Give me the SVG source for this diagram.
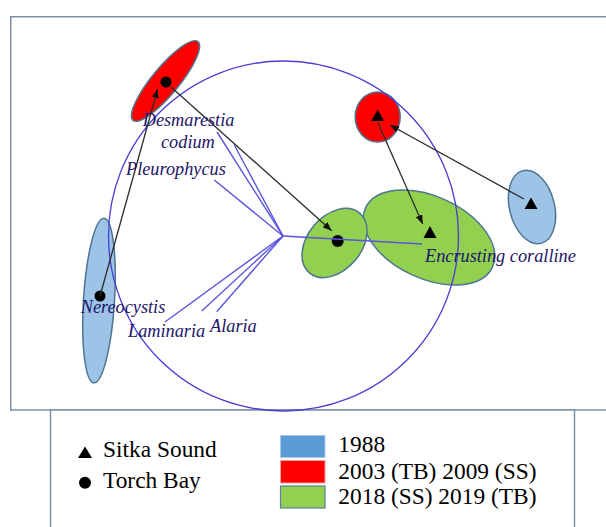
<svg xmlns="http://www.w3.org/2000/svg" width="606" height="527" viewBox="0 0 606 527">
  <style>
    .frame { fill: #ffffff; stroke: #7d90a8; stroke-width: 1.5; }
    .ell { stroke: #4d7592; stroke-width: 1.5; }
    .blue { fill: #9dc3e6; }
    .red { fill: #ff0000; }
    .green { fill: #92d050; }
    .sym { fill: #000000; }
    .arrow { stroke: #2b2b2b; stroke-width: 1.3; fill: none; marker-end: url(#ah); }
    .vec { stroke: #5a55dc; stroke-width: 1.4; fill: none; }
    .circ { stroke: #4a3fd2; stroke-width: 1.3; fill: none; }
    .lab { font-family: "Liberation Serif", "Times New Roman", serif; font-style: italic; font-size: 18.3px; fill: #1d1668; }
    .leg { font-family: "Liberation Serif", "Times New Roman", serif; font-size: 23.4px; fill: #000000; }
  </style>
  <defs>
    <marker id="ah" markerUnits="userSpaceOnUse" markerWidth="9" markerHeight="7" refX="9" refY="3.5" orient="auto">
      <path d="M0,0 L9,3.5 L0,7 z" fill="#111111"/>
    </marker>
  </defs>

  <rect class="frame" x="10.75" y="16.75" width="620" height="393.25"/>
  <rect class="frame" x="50.5" y="410" width="524" height="130"/>

  <g id="tb1988">
    <ellipse class="ell blue" cx="99" cy="300.5" rx="15.5" ry="82.5" transform="rotate(3.5 99 300.5)"/>
    <circle class="sym" cx="100" cy="296" r="5.5"/>
  </g>
  <g id="tb2003">
    <ellipse class="ell red" cx="165.5" cy="81" rx="51" ry="13.5" transform="rotate(-50.5 165.5 81)"/>
    <circle class="sym" cx="166" cy="82" r="5.5"/>
  </g>
  <g id="ss2009">
    <ellipse class="ell red" cx="377.7" cy="117" rx="22.5" ry="25"/>
    <polygon class="sym" points="377.7,109.5 371.2,121 384.2,121"/>
  </g>
  <g id="ss1988">
    <ellipse class="ell blue" cx="532" cy="207" rx="22.5" ry="37.5" transform="rotate(-14 532 207)"/>
    <polygon class="sym" points="531,197.5 524.5,209 537.5,209"/>
  </g>
  <g id="ss2018">
    <ellipse class="ell green" cx="429" cy="237.5" rx="70" ry="41" transform="rotate(25 429 237.5)"/>
    <polygon class="sym" points="430,226 423.5,238 436.5,238"/>
  </g>
  <g id="tb2019">
    <ellipse class="ell green" cx="334.5" cy="243" rx="39" ry="27" transform="rotate(-50 334.5 243)"/>
    <circle class="sym" cx="337.7" cy="241" r="6"/>
  </g>

  <g id="loadings">
    <circle class="circ" cx="283.5" cy="236" r="175"/>
    <line class="vec" x1="283" y1="236" x2="217" y2="132"/>
    <line class="vec" x1="283" y1="236" x2="234.3" y2="145"/>
    <line class="vec" x1="283" y1="236" x2="214.3" y2="180"/>
    <line class="vec" x1="283" y1="236" x2="422" y2="244"/>
    <line class="vec" x1="283" y1="236" x2="165" y2="322"/>
    <line class="vec" x1="283" y1="236" x2="201.7" y2="311"/>
    <line class="vec" x1="283" y1="236" x2="216.7" y2="311.7"/>
  </g>

  <g id="connectors">
    <line class="arrow" x1="100" y1="296" x2="157.7" y2="89"/>
    <line class="arrow" x1="171" y1="87" x2="331.7" y2="230.7"/>
    <line class="arrow" x1="378" y1="123" x2="422.7" y2="224"/>
    <line class="arrow" x1="524" y1="199" x2="390" y2="125"/>
  </g>

  <g id="labels">
    <text class="lab" x="142.7" y="126">Desmarestia</text>
    <text class="lab" x="161" y="148">codium</text>
    <text class="lab" x="126" y="175">Pleurophycus</text>
    <text class="lab" x="80.7" y="313">Nereocystis</text>
    <text class="lab" x="128" y="337">Laminaria</text>
    <text class="lab" x="210" y="332">Alaria</text>
    <text class="lab" x="425" y="261.7">Encrusting coralline</text>
  </g>

  <g id="legend">
    <polygon class="sym" points="85,446.5 78,458 92,458"/>
    <text class="leg" x="103" y="456.7">Sitka Sound</text>
    <circle class="sym" cx="85" cy="482.7" r="6"/>
    <text class="leg" x="103" y="488">Torch Bay</text>
    <rect x="280.5" y="435.5" width="44.5" height="22" fill="#5b9bd5" stroke="#a9c7e6" stroke-width="1"/>
    <rect x="280.5" y="460.5" width="44.5" height="22.5" fill="#ff0000" stroke="#f4a0a0" stroke-width="1"/>
    <rect x="280.5" y="486" width="44.5" height="22" fill="#92d050" stroke="#5a7fa0" stroke-width="1.2"/>
    <text class="leg" x="338.3" y="451.7">1988</text>
    <text class="leg" x="338.3" y="479">2003 (TB) 2009 (SS)</text>
    <text class="leg" x="338.3" y="503.5">2018 (SS) 2019 (TB)</text>
  </g>
</svg>
